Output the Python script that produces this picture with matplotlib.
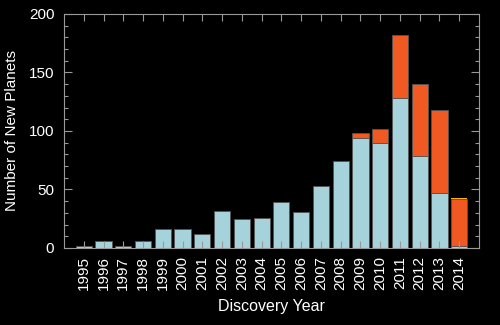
import matplotlib
matplotlib.use("Agg")
import matplotlib.pyplot as plt
import numpy as np

years = list(range(1995, 2015))
other = [2, 6, 2, 6, 16, 16, 12, 32, 25, 26, 39, 31, 53, 74, 94, 90, 128, 79, 47, 2]
kepler = [0, 0, 0, 0, 0, 0, 0, 0, 0, 0, 0, 0, 0, 0, 4, 12, 54, 61, 71, 40]
k2 = [0, 0, 0, 0, 0, 0, 0, 0, 0, 0, 0, 0, 0, 0, 0, 0, 0, 0, 0, 1]

plt.rcParams['font.family'] = ['Liberation Sans', 'DejaVu Sans']
fig = plt.figure(figsize=(5, 3.25), dpi=100, facecolor='black')
ax = fig.add_axes([0.128, 0.237, 0.83, 0.72])
ax.set_facecolor('black')

x = np.array(years)
w = 0.82
ec = '#555555'
ax.bar(x, other, w, color='#a6d3db', edgecolor=ec, linewidth=0.6)
ax.bar(x, kepler, w, bottom=other, color='#f05a22', edgecolor=ec, linewidth=0.6)
bot2 = np.array(other) + np.array(kepler)
ax.bar(x, k2, w, bottom=bot2, color='#f5b800', linewidth=0)

ax.set_xlim(1994.0, 2015.0)
ax.set_ylim(0, 200)
ax.set_xticks(years)
ax.set_xticklabels([str(y) for y in years], rotation=90)
ax.set_yticks([0, 50, 100, 150, 200])
ax.set_yticks(np.arange(0, 201, 10), minor=True)
ax.tick_params(axis='both', which='both', direction='in', colors='#999999',
               labelcolor='white', labelsize=11, top=True, right=True, width=0.8)
ax.tick_params(axis='y', which='major', length=6, pad=7)
ax.tick_params(axis='y', which='minor', length=3)
ax.tick_params(axis='x', which='major', length=5, pad=6)
for s in ax.spines.values():
    s.set_color('#999999')
    s.set_linewidth(0.8)

ax.set_xlabel('Discovery Year', color='white', fontsize=11.5, labelpad=6)
ax.set_ylabel('Number of New Planets', color='white', fontsize=11, labelpad=7)

fig.savefig('out.png', dpi=100, facecolor='black')
